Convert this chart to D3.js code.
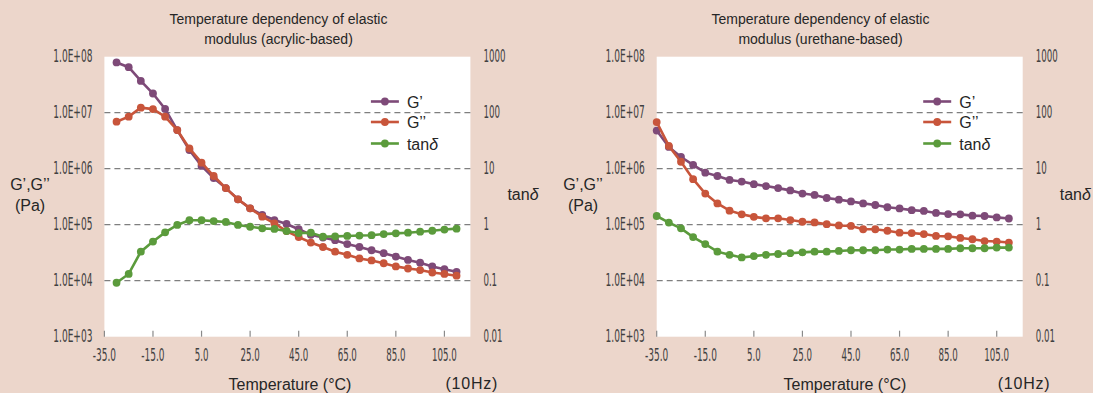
<!DOCTYPE html>
<html>
<head>
<meta charset="utf-8">
<script src="https://cdn.jsdelivr.net/npm/d3@7"></script>
<style>
  html, body { margin: 0; padding: 0; background: #ecd6cb; }
  svg { display: block; }
  .t { font-family: "Liberation Sans", Arial, sans-serif; fill: #262626; }
  .tick-l { font-family: "Liberation Sans Narrow", "DejaVu Sans Condensed", "Arial Narrow", sans-serif; fill: #404040; }
</style>
</head>
<body>
<svg id="c" width="1093" height="393"></svg>
<script>
// ---------------- data ----------------
const tempAcrylic = [-30,-25,-20,-15,-10,-5,0,5,10,15,20,25,30,35,40,45,50,55,60,65,70,75,80,85,90,95,100,105,110];
const gPrimeAcrylic = [7.9e7,6.5e7,3.7e7,2.2e7,1.17e7,4.9e6,2.15e6,1.12e6,6.8e5,4.5e5,2.84e5,1.96e5,1.49e5,1.21e5,1.03e5,8.3e4,6.6e4,5.9e4,5.3e4,4.5e4,4.0e4,3.5e4,3.1e4,2.7e4,2.35e4,2.1e4,1.8e4,1.6e4,1.44e4];
const gDoublePrimeAcrylic = [6.9e6,8.5e6,1.23e7,1.16e7,8.5e6,4.9e6,2.3e6,1.28e6,7.4e5,4.5e5,2.84e5,1.96e5,1.39e5,1.06e5,7.7e4,6.0e4,4.8e4,4.0e4,3.3e4,2.9e4,2.5e4,2.3e4,2.05e4,1.8e4,1.65e4,1.55e4,1.4e4,1.32e4,1.23e4];
const tanDeltaAcrylic = [0.092,0.132,0.33,0.50,0.73,0.99,1.20,1.20,1.16,1.12,0.99,0.92,0.86,0.84,0.77,0.71,0.72,0.61,0.62,0.63,0.64,0.65,0.68,0.70,0.72,0.75,0.78,0.82,0.85];

const tempUrethane = [-35,-30,-25,-20,-15,-10,-5,0,5,10,15,20,25,30,35,40,45,50,55,60,65,70,75,80,85,90,95,100,105,110];
const gPrimeUrethane = [4.8e6,2.45e6,1.62e6,1.17e6,8.5e5,7.4e5,6.3e5,5.9e5,5.3e5,4.9e5,4.5e5,4.1e5,3.6e5,3.4e5,3.0e5,2.8e5,2.6e5,2.4e5,2.25e5,2.05e5,1.95e5,1.82e5,1.76e5,1.62e5,1.55e5,1.53e5,1.45e5,1.43e5,1.35e5,1.29e5];
const gDoublePrimeUrethane = [6.8e6,2.55e6,1.33e6,6.5e5,3.6e5,2.4e5,1.78e5,1.53e5,1.38e5,1.3e5,1.3e5,1.21e5,1.13e5,1.1e5,1.02e5,9.7e4,9.5e4,8.3e4,8.3e4,7.8e4,7.2e4,7.1e4,6.8e4,6.3e4,6.2e4,5.8e4,5.5e4,5.1e4,5.0e4,4.8e4];
const tanDeltaUrethane = [1.43,1.09,0.86,0.60,0.45,0.33,0.29,0.26,0.275,0.29,0.30,0.31,0.32,0.33,0.33,0.34,0.35,0.35,0.35,0.36,0.36,0.37,0.37,0.37,0.37,0.38,0.38,0.38,0.39,0.39];

const xTickValues = [-35,-15,5,25,45,65,85,105];
const xTickLabels = ["-35.0","-15.0","5.0","25.0","45.0","65.0","85.0","105.0"];
const yTickValues = [1e3,1e4,1e5,1e6,1e7,1e8];
const yTickLabels = ["1.0E+03","1.0E+04","1.0E+05","1.0E+06","1.0E+07","1.0E+08"];
const tanTickValues = [0.01,0.1,1,10,100,1000];
const tanTickLabels = ["0.01","0.1","1","10","100","1000"];
const seriesNames = ["G\u2019","G\u2019\u2019","tan"];
const seriesColors = ["#7e4a78","#c8553b","#5b9b3c"];

const titlesAcrylic = ["Temperature dependency of elastic","modulus (acrylic-based)"];
const titlesUrethane = ["Temperature dependency of elastic","modulus (urethane-based)"];

// ---------------- drawing ----------------
const svg = d3.select("#c");
const charW = {".":2.7, "E":7.2, "+":7.2, "-":4};
function condW(s){ let w=0; for(const ch of s) w += (charW[ch] !== undefined ? charW[ch] : 5.5); return w; }
const TICK_FS = 17.5;

function tanText(sel) {
  sel.append("tspan").text("tan");
  sel.append("tspan").attr("font-style", "italic").text("\u03b4");
}

function drawChart(x0, titles, temps, gp, gpp, tan, titleCx, axisCx, ylabCx) {
  const W = 366, top = 56.7, bottom = 336.7;
  const x = d3.scaleLinear().domain([-35, 115.7]).range([x0, x0 + W]);
  const y = d3.scaleLog().domain([1e3, 1e8]).range([bottom, top]);
  const yt = d3.scaleLog().domain([0.01, 1000]).range([bottom, top]);
  const g = svg.append("g");

  g.append("rect").attr("x", x0).attr("y", top).attr("width", W).attr("height", bottom - top).attr("fill", "#ffffff");

  g.selectAll(".grid").data([1e4,1e5,1e6,1e7]).enter().append("line")
    .attr("x1", x0).attr("x2", x0 + W)
    .attr("y1", d => y(d)).attr("y2", d => y(d))
    .attr("stroke", "#7f7f7f").attr("stroke-width", 1.3).attr("stroke-dasharray", "6,4");

  g.selectAll(".xt").data(xTickValues).enter().append("line")
    .attr("x1", d => x(d)).attr("x2", d => x(d))
    .attr("y1", bottom).attr("y2", bottom - 6)
    .attr("stroke", "#8a8a8a").attr("stroke-width", 1.2);
  g.selectAll(".xl").data(xTickValues).enter().append("text")
    .attr("class", "tick-l").attr("font-size", TICK_FS).attr("x", d => x(d)).attr("y", 361)
    .attr("text-anchor", "middle")
    .attr("textLength", (d,i) => condW(xTickLabels[i])).attr("lengthAdjust", "spacingAndGlyphs")
    .text((d,i) => xTickLabels[i]);

  g.selectAll(".yl").data(yTickValues).enter().append("text")
    .attr("class", "tick-l").attr("font-size", TICK_FS).attr("x", x0 - 12).attr("y", d => y(d) + 5.5)
    .attr("text-anchor", "end")
    .attr("textLength", (d,i) => condW(yTickLabels[i])).attr("lengthAdjust", "spacingAndGlyphs")
    .text((d,i) => yTickLabels[i]);

  g.selectAll(".tl").data(tanTickValues).enter().append("text")
    .attr("class", "tick-l").attr("font-size", TICK_FS).attr("x", x0 + W + 13).attr("y", d => yt(d) + 5.5)
    .attr("text-anchor", "start")
    .attr("textLength", (d,i) => condW(tanTickLabels[i])).attr("lengthAdjust", "spacingAndGlyphs")
    .text((d,i) => tanTickLabels[i]);

  const series = [ {vals: gp, sc: y}, {vals: gpp, sc: y}, {vals: tan, sc: yt} ];
  series.forEach((s, k) => {
    const pts = temps.map((t, i) => [x(t), s.sc(s.vals[i])]);
    g.append("path").attr("d", d3.line()(pts))
      .attr("fill", "none").attr("stroke", seriesColors[k]).attr("stroke-width", 2.6);
    g.selectAll(null).data(pts).enter().append("circle")
      .attr("cx", d => d[0]).attr("cy", d => d[1]).attr("r", 3.9).attr("fill", seriesColors[k]);
  });

  const legY = [101.5, 122, 143.5];
  seriesNames.forEach((n, k) => {
    const lx = x0 + 266.5;
    g.append("line").attr("x1", lx).attr("x2", lx + 28).attr("y1", legY[k]).attr("y2", legY[k])
      .attr("stroke", seriesColors[k]).attr("stroke-width", 2.6);
    g.append("circle").attr("cx", lx + 14).attr("cy", legY[k]).attr("r", 3.9).attr("fill", seriesColors[k]);
    const tx = g.append("text").attr("class", "t").attr("x", lx + 36).attr("y", legY[k] + 6).attr("font-size", 16);
    if (k === 2) tanText(tx); else tx.text(n);
  });

  titles.forEach((tt, i) => {
    g.append("text").attr("class", "t").attr("x", titleCx).attr("y", 24 + i * 20)
      .attr("text-anchor", "middle").attr("font-size", 14).text(tt);
  });

  g.append("text").attr("class", "t").attr("x", axisCx).attr("y", 390)
    .attr("text-anchor", "middle").attr("font-size", 16).text("Temperature (\u00b0C)");
  g.append("text").attr("class", "t").attr("x", x0 + W - 25).attr("y", 389)
    .attr("text-anchor", "start").attr("font-size", 16).attr("letter-spacing", 0.8).text("(10Hz)");
  g.append("text").attr("class", "t").attr("x", ylabCx).attr("y", 190)
    .attr("text-anchor", "middle").attr("font-size", 16).text("G\u2019,G\u2019\u2019");
  g.append("text").attr("class", "t").attr("x", ylabCx).attr("y", 211)
    .attr("text-anchor", "middle").attr("font-size", 16).text("(Pa)");
  const tl = g.append("text").attr("class", "t").attr("x", x0 + W + 37).attr("y", 200)
    .attr("text-anchor", "start").attr("font-size", 16);
  tanText(tl);
}

drawChart(104.4, titlesAcrylic, tempAcrylic, gPrimeAcrylic, gDoublePrimeAcrylic, tanDeltaAcrylic, 278.5, 290, 30);
drawChart(656.7, titlesUrethane, tempUrethane, gPrimeUrethane, gDoublePrimeUrethane, tanDeltaUrethane, 820.5, 845, 583);
</script>
</body>
</html>
